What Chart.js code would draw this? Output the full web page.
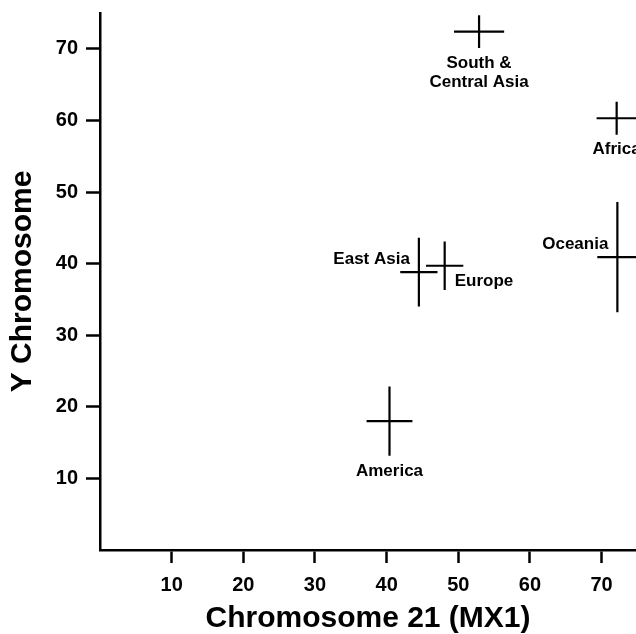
<!DOCTYPE html>
<html>
<head>
<meta charset="utf-8">
<script src="https://cdn.jsdelivr.net/npm/chart.js@4/dist/chart.umd.min.js"></script>
<style>
  html, body { margin: 0; padding: 0; background: #fff; }
  #wrap { width: 636px; height: 634px; position: relative; }
</style>
</head>
<body>
<div id="wrap"><canvas id="myChart"></canvas></div>
<script>
// values
var regions = ["South & Central Asia", "Africa", "Oceania", "East Asia", "Europe", "America"];
var regionLines = [["South &", "Central Asia"], ["Africa"], ["Oceania"], ["East Asia"], ["Europe"], ["America"]];
var mx1 = [52.9, 72.1, 72.2, 44.5, 48.1, 40.4];
var mx1Err = [3.5, 2.8, 2.8, 2.6, 2.6, 3.2];
var yChrom = [72.4, 60.3, 40.9, 38.8, 39.7, 18.0];
var yChromErr = [2.3, 2.3, 7.7, 4.8, 3.4, 4.85];
var xTicks = [10, 20, 30, 40, 50, 60, 70];
var yTicks = [10, 20, 30, 40, 50, 60, 70];

var FONT = "'Liberation Sans', Arial, Helvetica, sans-serif";

// where each name sits relative to its cross
var placement = {
    "South & Central Asia": "below",
    "Africa": "below",
    "America": "below",
    "Oceania": "leftAbove",
    "East Asia": "leftAbove",
    "Europe": "rightBelow"
};

var crossPlugin = {
    id: 'crosses',
    afterDatasetsDraw: function (chart) {
        var ctx = chart.ctx;
        var xs = chart.scales.x, ys = chart.scales.y;
        ctx.save();
        ctx.strokeStyle = '#000';
        ctx.lineWidth = 2.2;
        ctx.lineCap = 'butt';
        for (var i = 0; i < regions.length; i++) {
            var cx = xs.getPixelForValue(mx1[i]);
            var cy = ys.getPixelForValue(yChrom[i]);
            var x0 = xs.getPixelForValue(mx1[i] - mx1Err[i]);
            var x1 = xs.getPixelForValue(mx1[i] + mx1Err[i]);
            var yTop = ys.getPixelForValue(yChrom[i] + yChromErr[i]);
            var yBot = ys.getPixelForValue(yChrom[i] - yChromErr[i]);
            ctx.beginPath();
            ctx.moveTo(x0, cy); ctx.lineTo(x1, cy);
            ctx.moveTo(cx, yTop); ctx.lineTo(cx, yBot);
            ctx.stroke();

            ctx.fillStyle = '#000';
            ctx.font = 'bold 17px ' + FONT;
            ctx.textBaseline = 'middle';
            var lines = regionLines[i];
            var where = placement[regions[i]];
            if (where === 'below') {
                ctx.textAlign = 'center';
                for (var k = 0; k < lines.length; k++) {
                    ctx.fillText(lines[k], cx, yBot + 15 + k * 19.5);
                }
            } else if (where === 'leftAbove') {
                ctx.textAlign = 'right';
                ctx.fillText(lines[0], cx - 9, cy - 12.5);
            } else {
                ctx.textAlign = 'left';
                ctx.fillText(lines[0], cx + 10, cy + 16);
            }
        }
        ctx.restore();
    }
};

var ctx = document.getElementById("myChart");

var myChart = new Chart(ctx, {
    type: 'scatter',
    data: {
        labels: regions,
        datasets: [
            {
                label: 'Regions',
                data: mx1.map(function (v, i) { return { x: v, y: yChrom[i] }; }),
                pointRadius: 0,
                pointHoverRadius: 0,
                showLine: false
            }
        ]
    },
    options: {
        responsive: true,
        maintainAspectRatio: false,
        animation: false,
        layout: {
            padding: { top: 13, right: 0, left: 0, bottom: 0 }
        },
        plugins: {
            legend: { display: false },
            tooltip: { enabled: false }
        },
        scales: {
            x: {
                type: 'linear',
                min: 0,
                max: 74.8,
                afterBuildTicks: function (axis) {
                    axis.ticks = xTicks.map(function (v) { return { value: v }; });
                },
                afterFit: function (axis) {
                    axis.height = 84;
                    axis.paddingLeft = 0;
                    axis.paddingRight = 0;
                },
                border: { display: true, color: '#000', width: 2.5 },
                grid: {
                    drawOnChartArea: false,
                    drawTicks: true,
                    tickLength: 13,
                    tickWidth: 2.5,
                    tickColor: '#000'
                },
                ticks: {
                    color: '#000',
                    padding: 10,
                    font: { family: FONT, size: 20, weight: 'bold' }
                },
                title: {
                    display: true,
                    text: 'Chromosome 21 (MX1)',
                    color: '#000',
                    padding: { top: 0, bottom: 0 },
                    font: { family: FONT, size: 30, weight: 'bold', lineHeight: 1 }
                }
            },
            y: {
                type: 'linear',
                min: 0,
                max: 75,
                afterBuildTicks: function (axis) {
                    axis.ticks = yTicks.map(function (v) { return { value: v }; });
                },
                afterFit: function (axis) {
                    axis.width = 100;
                    axis.paddingTop = 0;
                    axis.paddingBottom = 0;
                },
                border: { display: true, color: '#000', width: 2.5 },
                grid: {
                    drawOnChartArea: false,
                    drawTicks: true,
                    tickLength: 14,
                    tickWidth: 2.5,
                    tickColor: '#000'
                },
                ticks: {
                    color: '#000',
                    padding: 8,
                    font: { family: FONT, size: 20, weight: 'bold' }
                },
                title: {
                    display: true,
                    text: 'Y Chromosome',
                    color: '#000',
                    padding: { top: 8, bottom: 0 },
                    font: { family: FONT, size: 30, weight: 'bold', lineHeight: 1 }
                }
            }
        }
    },
    plugins: [crossPlugin]
});
</script>
</body>
</html>
